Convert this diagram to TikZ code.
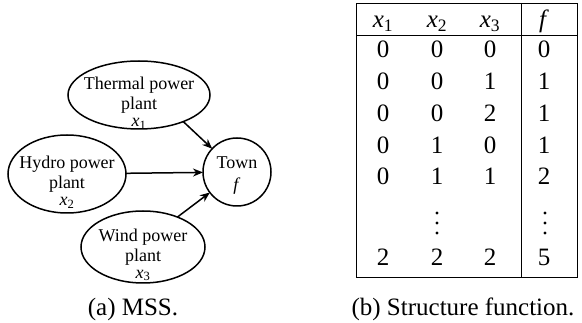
\documentclass[tikz,border=0pt]{standalone}
\usepackage{fontspec}
\setmainfont{Liberation Serif}
\usetikzlibrary{shapes.geometric,arrows.meta}
\newcommand\vsub[2]{\textit{#1}\textsubscript{#2}}
\begin{document}
\begin{tikzpicture}[x=1pt,y=-1pt,
  every node/.style={inner sep=0pt,outer sep=0pt},
  comp/.style={draw,ellipse,line width=1.5pt},
  lbl/.style={align=center,font=\fontsize{18}{20}\selectfont},
  arr/.style={line width=1.5pt,-{Stealth[length=10pt,width=8pt]}},
  cell/.style={font=\fontsize{25}{25}\selectfont,anchor=base},
  dot/.style={circle,fill,minimum size=3.2pt},
  capt/.style={font=\fontsize{25}{25}\selectfont,anchor=base}]
\useasboundingbox (0,0) rectangle (582,323);
% diagram
\node[comp,minimum width=142pt,minimum height=68pt] (thermal) at (139,95) {};
\node[lbl] (thermalT) at (139,103) {Thermal power\\plant\\[-3pt]\vsub{x}{1}};
\node[comp,minimum width=118pt,minimum height=78pt] (hydro) at (67,174) {};
\node[lbl] (hydroT) at (67,182) {Hydro power\\plant\\[-3pt]\vsub{x}{2}};
\node[comp,circle,minimum size=68pt] (town) at (237,172) {};
\node[lbl] (townT) at (237,176) {Town\\[2pt]\textit{f}};
\node[comp,minimum width=124pt,minimum height=72pt] (wind) at (143,247) {};
\node[lbl] (windT) at (143,255) {Wind power\\plant\\[-3pt]\vsub{x}{3}};
\draw[arr] (thermal.-31) -- (town);
\draw[arr] (hydro) -- (town);
\draw[arr] (wind.41) -- (town);
\node[capt] (capa) at (133,316) {(a) MSS.};
% table
\draw[line width=0.8pt] (356,3) rectangle (577,277);
\draw[line width=0.8pt] (356,35) -- (577,35);
\draw[line width=0.8pt] (521,3) -- (521,277);
\node[cell] (h1) at (383,28) {\vsub{x}{1}};
\node[cell] (h2) at (437,28) {\vsub{x}{2}};
\node[cell] (h3) at (490,28) {\vsub{x}{3}};
\node[cell] (h4) at (544,28) {\textit{f}};
\foreach \r/\a/\b/\c/\d/\y in {1/0/0/0/0/58, 2/0/0/1/1/90, 3/0/0/2/1/122, 4/0/1/0/1/154, 5/0/1/1/2/185, 7/2/2/2/5/266}{
  \node[cell] (c\r a) at (383,\y) {\a};
  \node[cell] (c\r b) at (437,\y) {\b};
  \node[cell] (c\r c) at (490,\y) {\c};
  \node[cell] (c\r d) at (544,\y) {\d};
}
\foreach \yy [count=\i] in {213,223,233}{
  \node[dot] (da\i) at (437,\yy) {};
  \node[dot] (db\i) at (545,\yy) {};
}
\node[capt] (capb) at (463,316) {(b) Structure function.};
\end{tikzpicture}
\end{document}
